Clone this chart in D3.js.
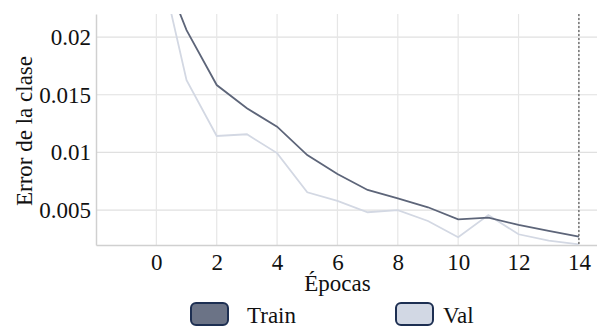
<!DOCTYPE html>
<html>
<head>
<meta charset="utf-8">
<script src="https://cdn.jsdelivr.net/npm/d3@7"></script>
</head>
<body style="margin:0; background:#fff">
<script>
// ---- Data
var epochs = [0, 1, 2, 3, 4, 5, 6, 7, 8, 9, 10, 11, 12, 13, 14];
var trainLoss = [0.0272, 0.0206, 0.01584, 0.01382, 0.01223, 0.00977, 0.00812, 0.00674,
                 0.00602, 0.00524, 0.00420, 0.00434, 0.00371, 0.00319, 0.00269];
var valLoss = [0.0277, 0.01627, 0.01142, 0.01157, 0.00994, 0.00654, 0.00579, 0.00481,
               0.00500, 0.00405, 0.00264, 0.00457, 0.00290, 0.00235, 0.00203];
var xTicks = [0, 2, 4, 6, 8, 10, 12, 14];
var yTicks = [0.005, 0.01, 0.015, 0.02];
var yTickLabels = ["0.005", "0.01", "0.015", "0.02"];
var bestEpoch = 14;
var seriesNames = ["Train", "Val"];

var FONT = "'Liberation Serif'";

// ---- Dimensions
var W = 597, H = 329;
var margin = {top: 14, right: 0, bottom: 84, left: 96};
var width = W - margin.left - margin.right,
    height = H - margin.top - margin.bottom;

var svg = d3.select("body")
  .append("svg")
    .attr("width", W)
    .attr("height", H)
    .style("display", "block");

var g = svg.append("g")
    .attr("transform", "translate(" + margin.left + "," + margin.top + ")");

// ---- Scales
var x = d3.scaleLinear().domain([-2, 14.6]).range([0, width]);
var y = d3.scaleLinear().domain([0.00197, 0.022]).range([height, 0]);

// clip so the lines stop at the top
svg.append("defs").append("clipPath").attr("id", "clip")
  .append("rect").attr("width", width).attr("height", height);

// ---- Grid
g.selectAll(".hgrid")
  .data(yTicks)
  .enter().append("line")
    .attr("x1", 0).attr("x2", width)
    .attr("y1", function(d) { return y(d); })
    .attr("y2", function(d) { return y(d); })
    .attr("stroke", "#e0e0e0").attr("stroke-width", 1.2);

g.selectAll(".vgrid")
  .data(xTicks)
  .enter().append("line")
    .attr("x1", function(d) { return x(d); })
    .attr("x2", function(d) { return x(d); })
    .attr("y1", 0).attr("y2", height)
    .attr("stroke", "#e6e6e6").attr("stroke-width", 1.2);

// ---- Axes
var xAxis = g.append("g")
  .attr("transform", "translate(0," + height + ")")
  .call(d3.axisBottom(x).tickValues(xTicks).tickSize(0).tickPadding(9));
xAxis.attr("font-family", null);
xAxis.select(".domain").attr("stroke", "#d0d0d0").attr("stroke-width", 1.5);
xAxis.selectAll("text").attr("font-size", 23).attr("fill", "#111")
  .style("font-family", FONT);

var yAxis = g.append("g")
  .call(d3.axisLeft(y).tickValues(yTicks)
    .tickFormat(function(d, i) { return yTickLabels[i]; })
    .tickSize(0).tickPadding(5));
yAxis.attr("font-family", null);
yAxis.select(".domain").attr("stroke", "#d0d0d0").attr("stroke-width", 1.5);
yAxis.selectAll("text").attr("font-size", 23).attr("fill", "#111")
  .style("font-family", FONT);

// ---- Lines
var line = d3.line()
  .x(function(d, i) { return x(epochs[i]); })
  .y(function(d) { return y(d); });

var plot = g.append("g").attr("clip-path", "url(#clip)");

plot.append("path")
  .datum(valLoss)
  .attr("fill", "none")
  .attr("stroke", "#d3d8e3")
  .attr("stroke-width", 1.8)
  .attr("d", line);

plot.append("path")
  .datum(trainLoss)
  .attr("fill", "none")
  .attr("stroke", "#5d6579")
  .attr("stroke-width", 1.8)
  .attr("d", line);

// best epoch marker
g.append("line")
  .attr("x1", x(bestEpoch)).attr("x2", x(bestEpoch))
  .attr("y1", 0).attr("y2", height)
  .attr("stroke", "#555")
  .attr("stroke-width", 1.2)
  .attr("stroke-dasharray", "2,2");

// ---- Axis titles
svg.append("text")
  .attr("x", margin.left + x(6))
  .attr("y", 291)
  .attr("text-anchor", "middle")
  .attr("font-size", 23)
  .attr("fill", "#111")
  .style("font-family", FONT)
  .text("Épocas");

svg.append("text")
  .attr("transform", "translate(32," + 131 + ")rotate(-90)")
  .attr("text-anchor", "middle")
  .attr("font-size", 23)
  .attr("fill", "#111")
  .style("font-family", FONT)
  .text("Error de la clase");

// ---- Legend
var legendFill = ["#6b7386", "#d2d8e4"];
var legendX = [191, 396];
var legend = svg.selectAll(".legend")
  .data(seriesNames)
  .enter().append("g")
    .attr("transform", function(d, i) { return "translate(" + legendX[i] + ",303)"; });

legend.append("rect")
  .attr("width", 37).attr("height", 22)
  .attr("rx", 5).attr("ry", 5)
  .attr("fill", function(d, i) { return legendFill[i]; })
  .attr("stroke", "#1d2f52")
  .attr("stroke-width", 2);

legend.append("text")
  .attr("x", function(d, i) { return i === 0 ? 56 : 47; })
  .attr("y", 20)
  .attr("font-size", 23)
  .attr("fill", "#111")
  .style("font-family", FONT)
  .text(function(d) { return d; });
</script>
</body>
</html>
